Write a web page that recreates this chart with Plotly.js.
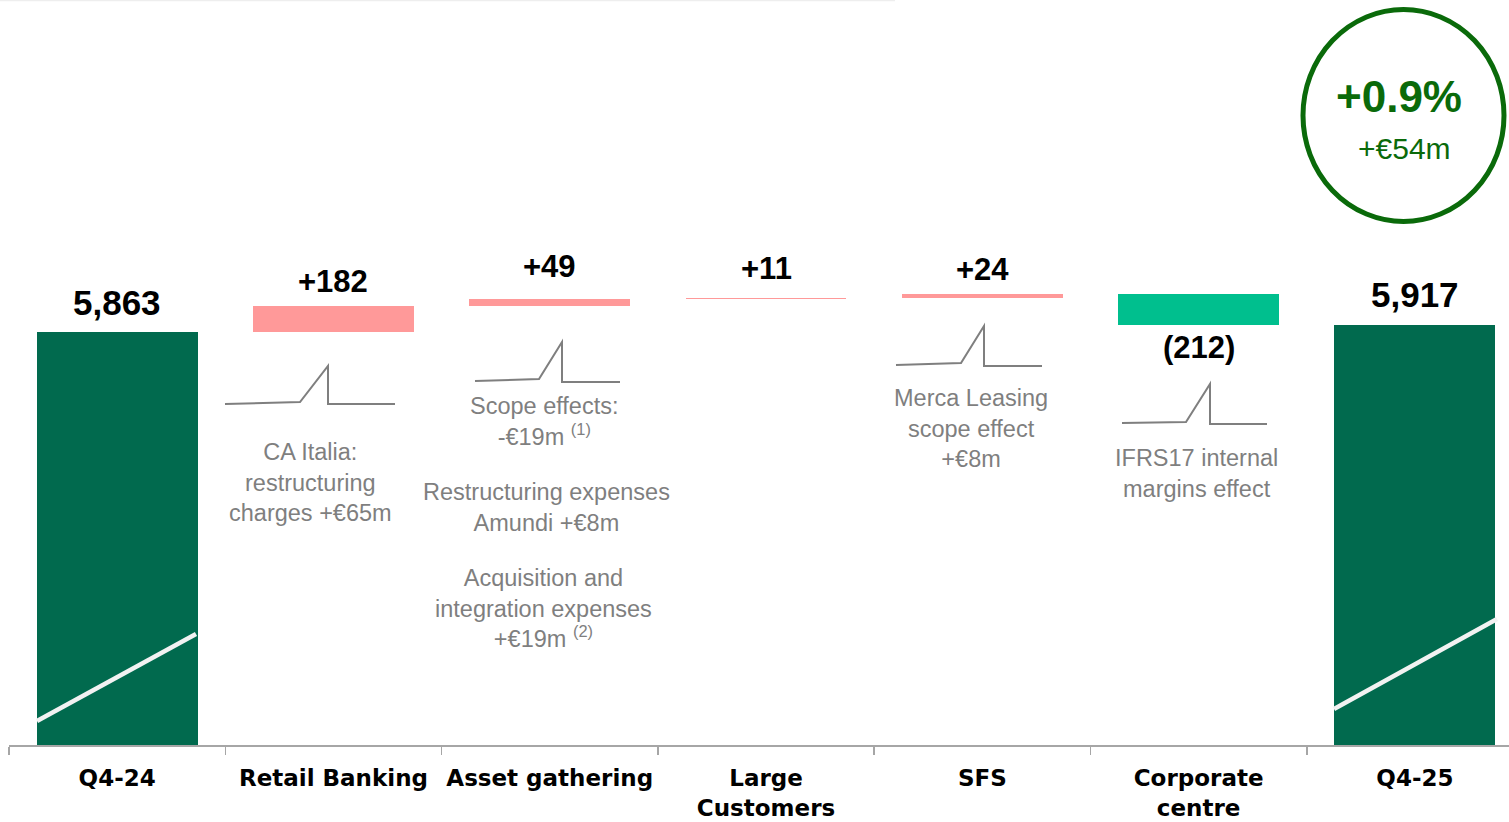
<!DOCTYPE html>
<html>
<head>
<meta charset="utf-8">
<script src="https://cdn.plot.ly/plotly-3.0.1.min.js"></script>
<style>html,body{margin:0;padding:0;background:#fff;}#chart{width:1509px;height:822px;}</style>
</head>
<body>
<div id="chart"></div>
<script>
// ---- data ----
const categories = ['Q4-24', 'Retail Banking', 'Asset gathering', 'Large<br>Customers', 'SFS', 'Corporate<br>centre', 'Q4-25'];
const startValue = 5863;
const deltas = [182, 49, 11, 24, -212];
const endValue = 5917;
const valueLabels = ['5,863', '+182', '+49', '+11', '+24', '(212)', '5,917'];
const growthPct = '+0.9%';
const growthAbs = '+€54m';
const noteRetail = 'CA Italia:<br>restructuring<br>charges +€65m';
const noteAsset1 = 'Scope effects:<br>-€19m <sup>(1)</sup>';
const noteAsset2 = 'Restructuring expenses<br>Amundi +€8m';
const noteAsset3 = 'Acquisition and<br>integration expenses<br>+€19m <sup>(2)</sup>';
const noteSFS = 'Merca Leasing<br>scope effect<br>+€8m';
const noteCorp = 'IFRS17 internal<br>margins effect';

// ---- styles ----
const DARK = '#016A4E', PINK = '#FF9999', TEAL = '#00BF8E', CIRCLE = '#0A6A0A', GREY = '#7F7F7F';
const FONT = 'Liberation Sans, Arial, Helvetica, sans-serif';
const TICKFONT = 'DejaVu Sans, Liberation Sans, Arial, sans-serif';
const W = 1509, H = 822, ML = 9, MB = 77, PW = W - ML, PH = H - MB;
const px = (x) => (x - ML) / PW;
const py = (y) => (PH - y) / PH;

// build floating bars
const bases = [0], lengths = [startValue];
let run = startValue;
deltas.forEach(d => { bases.push(run); lengths.push(d); run += d; });
bases.push(0); lengths.push(endValue);
const colors = [DARK].concat(deltas.map(d => d >= 0 ? PINK : TEAL)).concat([DARK]);

const trace = {
  type: 'bar', x: categories, y: lengths, base: bases,
  marker: {color: colors, line: {width: 0}},
  width: 0.744, hoverinfo: 'skip'
};

// value labels
const shifts = [30, 25, 33, 29, 25, -23, 30];
const annotations = valueLabels.map((t, i) => {
  const top = bases[i] + lengths[i];
  const hi = Math.max(bases[i], top), lo = Math.min(bases[i], top);
  const neg = lengths[i] < 0;
  const total = (i === 0 || i === categories.length - 1);
  return {
    x: categories[i], y: neg ? lo : hi, xref: 'x', yref: 'y', text: t, showarrow: false,
    yanchor: 'middle', yshift: shifts[i],
    font: {family: FONT, size: total ? 35 : 31, color: '#000', weight: 'bold'}
  };
});

function note(text, cx, cy) {
  return {x: px(cx), y: py(cy), xref: 'paper', yref: 'paper', text: text, showarrow: false,
    xanchor: 'center', yanchor: 'middle', align: 'center',
    font: {family: FONT, size: 23.5, color: GREY}};
}
annotations.push(note(noteRetail, 310, 482));
annotations.push(note(noteAsset1, 544, 421));
annotations.push(note(noteAsset2, 546, 507.5));
annotations.push(note(noteAsset3, 543, 608));
annotations.push(note(noteSFS, 971, 428));
annotations.push(note(noteCorp, 1196, 473.5));
annotations.push({x: px(1399), y: py(96), xref: 'paper', yref: 'paper', text: growthPct, showarrow: false,
  xanchor: 'center', yanchor: 'middle', font: {family: FONT, size: 44, color: CIRCLE, weight: 'bold'}});
annotations.push({x: px(1404), y: py(149), xref: 'paper', yref: 'paper', text: growthAbs, showarrow: false,
  xanchor: 'center', yanchor: 'middle', font: {family: FONT, size: 30, color: CIRCLE}});

// decorative step marks
function step(pts) {
  let d = pts.map((p, k) => (k ? 'L' : 'M') + px(p[0]) + ',' + py(p[1])).join(' ');
  return {type: 'path', xref: 'paper', yref: 'paper', path: d, line: {color: GREY, width: 2}};
}
const shapes = [
  step([[225, 404], [300, 402], [328, 366], [328, 404], [395, 404]]),
  step([[475, 381], [539, 379], [562, 342], [562, 382], [620, 382]]),
  step([[896, 365], [961, 363], [984, 326], [984, 366], [1042, 366]]),
  step([[1122, 423], [1186, 422], [1210, 384], [1210, 424], [1267, 424]]),
  // axis break marks
  {type: 'line', xref: 'paper', yref: 'paper', x0: px(37), y0: py(721), x1: px(196), y1: py(634), line: {color: '#F2F2F2', width: 4.5}},
  {type: 'line', xref: 'paper', yref: 'paper', x0: px(1334), y0: py(709), x1: px(1497), y1: py(619), line: {color: '#F2F2F2', width: 4.5}},
  // circle
  {type: 'circle', xref: 'paper', yref: 'paper', x0: px(1303), x1: px(1504), y0: py(9.5), y1: py(221.5), line: {color: CIRCLE, width: 5}},
  // faint top line
  {type: 'line', xref: 'paper', yref: 'paper', x0: px(0), x1: px(895), y0: py(0.5), y1: py(0.5), line: {color: '#EEEEEE', width: 1.5}}
];

const layout = {
  width: W, height: H,
  margin: {l: ML, r: 0, t: 0, b: MB, pad: 0},
  paper_bgcolor: '#fff', plot_bgcolor: '#fff',
  showlegend: false, bargap: 0,
  xaxis: {type: 'category', range: [-0.5, 6.435], tickson: 'boundaries', ticks: 'outside', ticklen: 8,
    tickcolor: '#A6A6A6', tickwidth: 1.5, showline: true, linecolor: '#A6A6A6', linewidth: 1.5,
    showgrid: false, zeroline: false, fixedrange: true, ticklabelstandoff: 12, tickangle: 0,
    tickfont: {family: TICKFONT, size: 23, color: '#000', weight: 'bold'}},
  yaxis: {range: [3000, 8170], visible: false, showgrid: false, zeroline: false, fixedrange: true},
  annotations: annotations, shapes: shapes
};

Plotly.newPlot('chart', [trace], layout, {displayModeBar: false, staticPlot: true});
</script>
</body>
</html>
